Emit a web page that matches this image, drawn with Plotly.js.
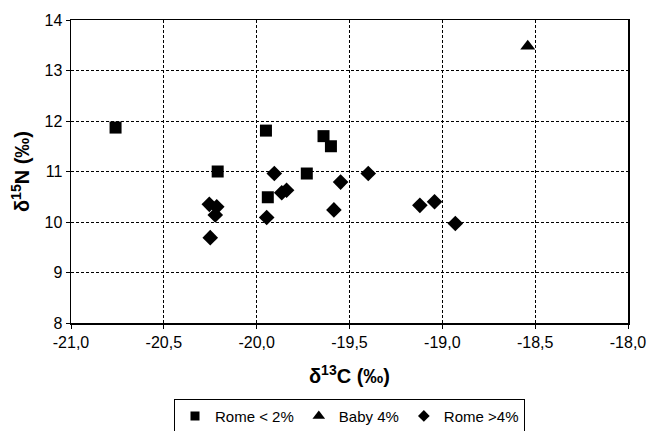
<!DOCTYPE html>
<html>
<head>
<meta charset="utf-8">
<script src="https://cdn.plot.ly/plotly-3.0.1.min.js"></script>
<style>html,body{margin:0;padding:0;background:#fff;}#chart{width:651px;height:431px;}</style>
</head>
<body>
<div id="chart"></div>
<script>
var seriesNames = ["Rome < 2%", "Baby 4%", "Rome >4%"];
var romeLowX = [-20.76, -20.21, -19.95, -19.94, -19.73, -19.64, -19.60];
var romeLowY = [11.87, 11.00, 11.81, 10.49, 10.96, 11.70, 11.50];
var babyX = [-18.54];
var babyY = [13.48];
var romeHighX = [-19.905, -20.255, -20.215, -20.223, -20.25, -19.946, -19.865, -19.839, -19.548, -19.584, -19.399, -19.121, -19.042, -18.93];
var romeHighY = [10.96, 10.35, 10.30, 10.14, 9.69, 10.09, 10.58, 10.63, 10.79, 10.24, 10.96, 10.33, 10.40, 9.97];
var xTicks = [-21, -20.5, -20, -19.5, -19, -18.5, -18];
var xTickText = ["-21,0", "-20,5", "-20,0", "-19,5", "-19,0", "-18,5", "-18,0"];
var yTicks = [8, 9, 10, 11, 12, 13, 14];
var yTickText = ["8", "9", "10", "11", "12", "13", "14"];

var symbols = ["square", "triangle-up", "diamond"];
var sizes = [12, 13, 12];
var legendSizes = [9, 11, 9];
var xs = [romeLowX, babyX, romeHighX];
var ys = [romeLowY, babyY, romeHighY];

var traces = [];
for (var i = 0; i < 3; i++) {
  traces.push({
    x: xs[i], y: ys[i], type: "scatter", mode: "markers", name: seriesNames[i],
    showlegend: false, hoverinfo: "x+y",
    marker: {symbol: symbols[i], size: sizes[i], color: "#000", line: {width: 0}}
  });
}
for (var j = 0; j < 3; j++) {
  traces.push({
    x: [null], y: [null], type: "scatter", mode: "markers", name: seriesNames[j],
    showlegend: true,
    marker: {symbol: symbols[j], size: legendSizes[j], color: "#000", line: {width: 0}}
  });
}

var layout = {
  width: 651, height: 431,
  margin: {l: 71, r: 23, t: 20, b: 108},
  paper_bgcolor: "#fff", plot_bgcolor: "#fff",
  font: {family: "Liberation Sans, Arial, sans-serif", size: 15, color: "#000"},
  xaxis: {
    range: [-21, -18], tickvals: xTicks, ticktext: xTickText,
    showgrid: true, gridcolor: "#000", griddash: "3px,2px", gridwidth: 1,
    zeroline: false, showline: true, linecolor: "#000", linewidth: 1.5, mirror: true,
    ticks: "outside", ticklen: 4, tickcolor: "#000",
    tickfont: {size: 16},
    title: {text: "<b>δ<sup>13</sup>C (‰)</b>", font: {size: 20}, standoff: 19}
  },
  yaxis: {
    range: [8, 14], tickvals: yTicks, ticktext: yTickText,
    showgrid: true, gridcolor: "#000", griddash: "3px,2px", gridwidth: 1,
    zeroline: false, showline: true, linecolor: "#000", linewidth: 1.5, mirror: true,
    ticks: "outside", ticklen: 4, tickcolor: "#000",
    tickfont: {size: 16},
    title: {text: "<b>δ<sup>15</sup>N (‰)</b>", font: {size: 20}, standoff: 9}
  },
  legend: {
    orientation: "h", x: 0.5, xanchor: "center",
    yref: "container", y: 0.075, yanchor: "top",
    bordercolor: "#000", borderwidth: 1, bgcolor: "#fff",
    font: {size: 15}, tracegroupgap: 0
  },
  showlegend: true
};

Plotly.newPlot("chart", traces, layout, {displayModeBar: false, staticPlot: true});
</script>
</body>
</html>
